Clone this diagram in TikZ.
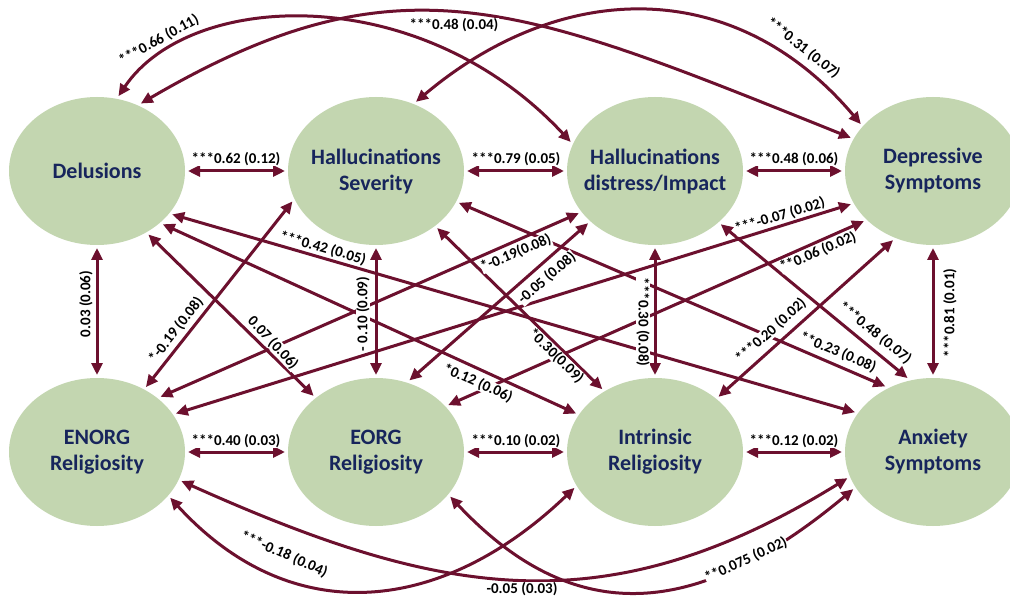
\documentclass[tikz,border=0pt]{standalone}
\usepackage{fontspec}
\setmainfont{Carlito}
\usetikzlibrary{arrows.meta,shapes.geometric}
\definecolor{arcc}{RGB}{108,16,46}
\definecolor{ellc}{RGB}{195,214,176}
\definecolor{navyc}{RGB}{23,37,92}
\begin{document}
\begin{tikzpicture}[x=1pt,y=-1pt,
 blob/.style={ellipse, fill=ellc, minimum width=176pt, minimum height=148pt, inner sep=0pt, outer sep=3pt},
 ntext/.style={text=navyc, font=\fontsize{22}{26}\selectfont\bfseries, align=center},
 con/.style={draw=arcc, line width=3pt, >={Triangle[length=12pt,width=11pt]}, <->},
 lab/.style={font=\fontsize{15}{17}\selectfont\bfseries, fill=white, inner sep=0.3pt},
]
\useasboundingbox (0,0) rectangle (1010,596);
\fill[white] (0,0) rectangle (1010,596);
% ellipses
\node[blob] (D) at (97,171) {};
\node[blob] (HS) at (376,171) {};
\node[blob] (HD) at (655,171) {};
\node[blob] (DS) at (933,171) {};
\node[blob] (EN) at (97,452) {};
\node[blob] (EO) at (376,452) {};
\node[blob] (IN) at (655,452) {};
\node[blob] (AN) at (933,452) {};
\node[ntext] (Dt) at (D) {Delusions};
\node[ntext] (HSt) at (HS) {Hallucinations\\Severity};
\node[ntext] (HDt) at (HD) {Hallucinations\\distress/Impact};
\node[ntext] (DSt) at (DS) {Depressive\\Symptoms};
\node[ntext] (ENt) at (EN) {ENORG\\Religiosity};
\node[ntext] (EOt) at (EO) {EORG\\Religiosity};
\node[ntext] (INt) at (IN) {Intrinsic\\Religiosity};
\node[ntext] (ANt) at (AN) {Anxiety\\Symptoms};
% horizontals
\draw[con] (D.east) -- (HS.west);
\draw[con] (HS.east) -- (HD.west);
\draw[con] (HD.east) -- (DS.west);
\draw[con] (EN.east) -- (EO.west);
\draw[con] (EO.east) -- (IN.west);
\draw[con] (IN.east) -- (AN.west);
% verticals
\draw[con] (D.south) -- (EN.north);
\draw[con] (HS.south) -- (EO.north);
\draw[con] (HD.south) -- (IN.north);
\draw[con] (DS.south) -- (AN.north);
% diagonals
\draw[con] (D.-30) -- (AN.153);
\draw[con] (D.-39) -- (IN.154);
\draw[con] (D.-51) -- (EO.138);
\draw[con] (HS.200) -- (EN.53);
\draw[con] (HS.-43) -- (IN.130);
\draw[con] (HS.-21) -- (AN.126);
\draw[con] (HD.209) -- (EN.41);
\draw[con] (HD.218) -- (EO.65);
\draw[con] (HD.-39) -- (AN.109);
\draw[con] (DS.202) -- (EN.26);
\draw[con] (DS.216) -- (EO.33);
\draw[con] (DS.240) -- (IN.41);
% arcs
\draw[con] (D.74) .. controls (190,-10) and (420,-20) .. (HD.161);
\draw[con] (D.57) .. controls (400,-48) and (520,5) .. (DS.158);
\draw[con] (HS.60) .. controls (563,-22) and (736,-24) .. (DS.147);
\draw[con] (EN.-32) .. controls (294,633) and (445,612) .. (IN.204);
\draw[con] (EN.-19) .. controls (440,597) and (605,628) .. (AN.197);
\draw[con] (EO.-31) .. controls (581,636) and (706,612) .. (AN.205);
% labels
\node[lab] (l1) at (236,159) {***0.62 (0.12)};
\node[lab] (l2) at (516,159) {***0.79 (0.05)};
\node[lab] (l3) at (794,159) {***0.48 (0.06)};
\node[lab] (l4) at (236,441) {***0.40 (0.03)};
\node[lab] (l5) at (516,441) {***0.10 (0.02)};
\node[lab] (l6) at (794,441) {***0.12 (0.02)};
\node[lab,rotate=90] (l7) at (86,304) {0.03 (0.06)};
\node[lab,rotate=90] (l8) at (363,314) {- 0.10 (0.09)};
\node[lab,rotate=-90] (l9) at (643,322) {***0.30 (0.08)};
\node[lab,rotate=90] (l10) at (950,313) {***0.81 (0.01)};
\node[lab,rotate=-16] (l11) at (323,248) {***0.42 (0.05)};
\node[lab,rotate=-47] (l12) at (273,343) {0.07 (0.06)};
\node[lab,rotate=52] (l13) at (176,330) {*-0.19 (0.08)};
\node[lab,rotate=23] (l14) at (516,253) {*-0.19(0.08)};
\node[lab,rotate=41] (l15) at (547,278) {-0.05 (0.08)};
\node[lab,rotate=-44] (l16) at (556,356) {*0.30(0.09)};
\node[lab,rotate=-24] (l17) at (478,383) {*0.12 (0.06)};
\node[lab,rotate=17] (l18) at (780,216) {***-0.07 (0.02)};
\node[lab,rotate=23] (l19) at (818,252) {**0.06 (0.02)};
\node[lab,rotate=42] (l20) at (771,331) {***0.20 (0.02)};
\node[lab,rotate=-23] (l21) at (838,352) {**0.23 (0.08)};
\node[lab,rotate=-39] (l22) at (875,333) {***0.48 (0.07)};
\node[lab,rotate=29] (l23) at (159,40) {***0.66 (0.11)};
\node[lab] (l24) at (454,25) {***0.48 (0.04)};
\node[lab,rotate=-38] (l25) at (803,48) {***0.31 (0.07)};
\node[lab,rotate=-24] (l26) at (284,554) {***-0.18 (0.04)};
\node[lab] (l27) at (522,589) {-0.05 (0.03)};
\node[lab,rotate=25] (l28) at (746,560) {**0.075 (0.02)};
\end{tikzpicture}
\end{document}
